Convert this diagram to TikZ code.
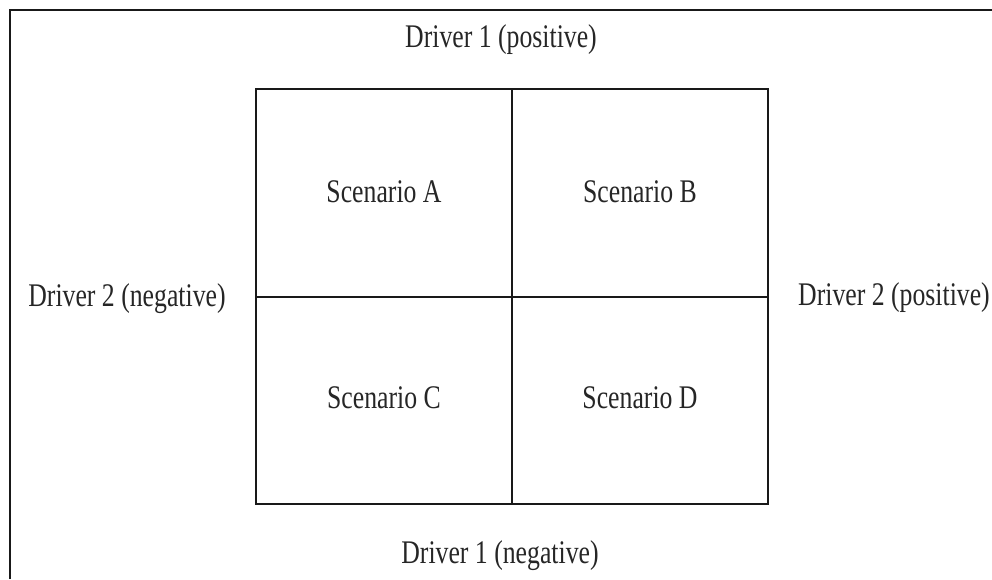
\documentclass[tikz,border=0pt]{standalone}
\usepackage{fontspec}
\setmainfont{Liberation Serif}[FakeStretch=0.78]
\begin{document}
\begin{tikzpicture}[x=1pt,y=-1pt,
  frameline/.style={line width=2pt,black!90},
  gridline/.style={line width=2pt,black!90},
  lbl/.style={anchor=base,inner sep=0pt,font=\fontsize{33}{40}\selectfont,text=black!85}]
  \useasboundingbox (0,0) rectangle (992,579);
  % partial outer frame
  \coordinate (fl) at (9.5,579);
  \coordinate (ftl) at (9.5,10);
  \coordinate (fr) at (992,10);
  \draw[frameline] (fl) -- (ftl) -- (fr);
  % two-by-two scenario grid
  \draw[gridline] (256,89) rectangle (768,504);
  \draw[gridline] (512,89) -- (512,504);
  \draw[gridline] (256,297) -- (768,297);
  % quadrant labels
  \node[lbl] (sa) at (384,202) {Scenario A};
  \node[lbl] (sb) at (640,202) {Scenario B};
  \node[lbl] (sc) at (384,408) {Scenario C};
  \node[lbl] (sd) at (640,408) {Scenario D};
  % axis labels
  \node[lbl] (d1p) at (501,47) {Driver 1 (positive)};
  \node[lbl] (d1n) at (500,563) {Driver 1 (negative)};
  \node[lbl] (d2n) at (127,306) {Driver 2 (negative)};
  \node[lbl] (d2p) at (894,305) {Driver 2 (positive)};
\end{tikzpicture}
\end{document}
